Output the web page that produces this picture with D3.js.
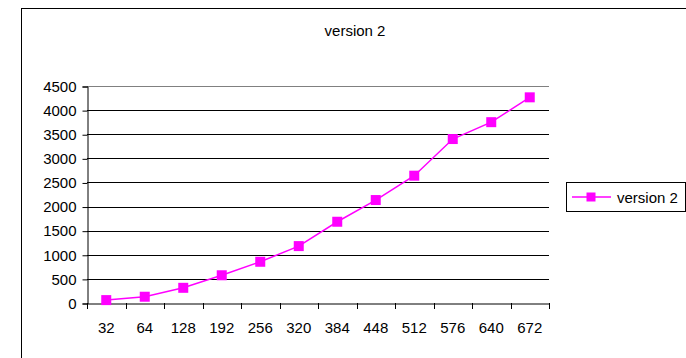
<!DOCTYPE html>
<html><head><meta charset="utf-8">
<script src="https://cdn.jsdelivr.net/npm/d3@7"></script>
<style>
html,body{margin:0;padding:0;background:#fff;}
text{font-family:"Liberation Sans",Arial,sans-serif;fill:#000;}
</style></head>
<body>
<svg id="c" width="686" height="358"></svg>
<script>
const categories = ["32","64","128","192","256","320","384","448","512","576","640","672"];
const seriesName = "version 2";
const values = [60,130,315,575,855,1180,1685,2135,2640,3400,3750,4265];
const yTicks = [0,500,1000,1500,2000,2500,3000,3500,4000,4500];
const title = "version 2";

const svg = d3.select("#c");
const color = "#FF00FF";
const L = 87, R = 549, T = 86, B = 303;

// outer chart border
svg.append("rect").attr("x",21.5).attr("y",8.5).attr("width",700).attr("height",400)
  .attr("fill","none").attr("stroke","#000").attr("stroke-width",1);

const x = d3.scaleBand().domain(categories).range([L,R]);
const y = d3.scaleLinear().domain([0,4500]).range([B,T]);

// gridlines
svg.append("g").selectAll("line").data(yTicks.filter(d=>d>0)).join("line")
  .attr("x1",L).attr("x2",R)
  .attr("y1",d=>Math.round(y(d))+0.5).attr("y2",d=>Math.round(y(d))+0.5)
  .attr("stroke",d=>d===4500?"#808080":"#000").attr("stroke-width",1);

// y axis
const yAxis = d3.axisLeft(y).tickValues(yTicks).tickSize(5).tickPadding(6).tickFormat(d3.format("d"));
const gy = svg.append("g").attr("transform",`translate(${L+0.5},0.5)`).call(yAxis);
gy.select(".domain").attr("stroke","#000");
gy.selectAll(".tick line").attr("stroke","#000");
gy.selectAll(".tick text").attr("font-size",15).attr("font-family","Liberation Sans, Arial, sans-serif");

// x axis
const xAxis = d3.axisBottom(x).tickSize(0).tickPadding(0);
const gx = svg.append("g").attr("transform",`translate(0,${B+0.5})`).call(xAxis);
gx.select(".domain").attr("stroke","#000");
gx.selectAll(".tick text").attr("font-size",15).attr("dy",null).attr("y",29)
  .attr("font-family","Liberation Sans, Arial, sans-serif");
// category boundary tick marks
const bounds = categories.map(c=>x(c)).concat([R]);
svg.append("g").selectAll("line").data(bounds).join("line")
  .attr("x1",d=>Math.round(d)+0.5).attr("x2",d=>Math.round(d)+0.5)
  .attr("y1",B).attr("y2",B+6).attr("stroke","#000");

// line
const cx = c => x(c) + x.bandwidth()/2;
const pts = categories.map((c,i)=>[cx(c), y(values[i])]);
svg.append("path").attr("d",d3.line()(pts)).attr("fill","none")
  .attr("stroke",color).attr("stroke-width",1.5);
svg.append("g").selectAll("rect").data(pts).join("rect")
  .attr("x",d=>d[0]-5).attr("y",d=>d[1]-5).attr("width",10).attr("height",10)
  .attr("fill",color);

// title
svg.append("text").attr("x",355).attr("y",36).attr("text-anchor","middle")
  .attr("font-size",15).text(title);

// legend
svg.append("rect").attr("x",566.5).attr("y",182.5).attr("width",119).attr("height",29)
  .attr("fill","#fff").attr("stroke","#000");
svg.append("line").attr("x1",572).attr("x2",611).attr("y1",197).attr("y2",197)
  .attr("stroke",color).attr("stroke-width",1.5);
svg.append("rect").attr("x",586.5).attr("y",192.5).attr("width",9).attr("height",9).attr("fill",color);
svg.append("text").attr("x",617).attr("y",202.5).attr("font-size",15).text(seriesName);
</script>
</body></html>
